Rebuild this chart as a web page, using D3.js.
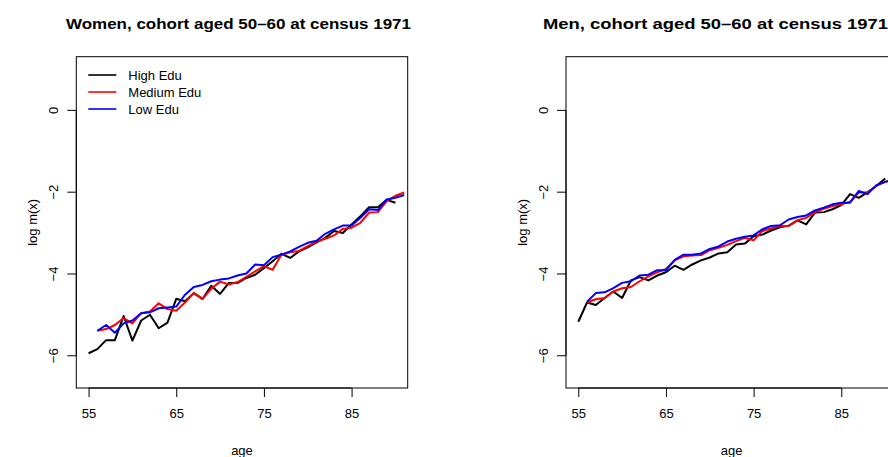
<!DOCTYPE html>
<html lang="en">
<head>
<meta charset="UTF-8">
<title>log m(x) by education</title>
<script src="https://cdnjs.cloudflare.com/ajax/libs/d3/7.8.5/d3.min.js"></script>
<style>
  body { margin: 0; background: #fff; }
  text { font-family: "Liberation Sans", Arial, Helvetica, sans-serif; fill: #000; }
</style>
</head>
<body>
<div id="chart"></div>
<script>
// ages: high edu series starts at 55, medium / low at 56
var agesHigh = d3.range(55, 91);
var agesMedLow = d3.range(56, 92);

var womenHigh = [-5.95, -5.85, -5.63, -5.63, -5.04, -5.64, -5.15, -5.01, -5.34, -5.20,
  -4.62, -4.68, -4.48, -4.62, -4.30, -4.50, -4.23, -4.23, -4.11, -4.03,
  -3.87, -3.70, -3.52, -3.62, -3.46, -3.36, -3.24, -3.13, -2.96, -3.01,
  -2.80, -2.60, -2.38, -2.38, -2.20, -2.27];
var womenMedium = [-5.40, -5.36, -5.26, -5.09, -5.22, -4.97, -4.93, -4.73, -4.87, -4.91,
  -4.71, -4.48, -4.62, -4.37, -4.20, -4.27, -4.21, -4.08, -3.95, -3.82,
  -3.91, -3.54, -3.48, -3.45, -3.33, -3.22, -3.15, -3.07, -2.91, -2.88,
  -2.76, -2.51, -2.50, -2.23, -2.10, -2.02];
var womenLow = [-5.40, -5.26, -5.45, -5.22, -5.15, -4.97, -4.95, -4.85, -4.83, -4.81,
  -4.52, -4.33, -4.28, -4.19, -4.15, -4.12, -4.05, -4.00, -3.78, -3.80,
  -3.60, -3.54, -3.46, -3.35, -3.25, -3.20, -3.03, -2.92, -2.83, -2.83,
  -2.64, -2.43, -2.45, -2.19, -2.15, -2.08];

var menHigh = [-5.18, -4.71, -4.77, -4.60, -4.44, -4.60, -4.17, -4.09, -4.17, -4.05,
  -3.97, -3.81, -3.91, -3.78, -3.68, -3.61, -3.51, -3.48, -3.29, -3.27,
  -3.09, -3.05, -2.95, -2.87, -2.83, -2.70, -2.80, -2.51, -2.50, -2.43,
  -2.33, -2.06, -2.15, -2.01, -1.86, -1.68];
var menMedium = [-4.71, -4.63, -4.60, -4.44, -4.36, -4.33, -4.19, -4.07, -3.97, -3.89,
  -3.68, -3.58, -3.56, -3.55, -3.43, -3.37, -3.30, -3.21, -3.13, -3.19,
  -2.96, -2.90, -2.84, -2.84, -2.70, -2.64, -2.50, -2.42, -2.35, -2.31,
  -2.25, -2.02, -2.02, -1.86, -1.76, -1.70];
var menLow = [-4.69, -4.48, -4.46, -4.36, -4.23, -4.19, -4.05, -4.03, -3.92, -3.92,
  -3.67, -3.54, -3.54, -3.51, -3.40, -3.34, -3.22, -3.15, -3.10, -3.07,
  -2.92, -2.84, -2.82, -2.68, -2.62, -2.58, -2.46, -2.39, -2.31, -2.27,
  -2.27, -1.98, -2.06, -1.84, -1.76, -1.72];

var legendLabels = ["High Edu", "Medium Edu", "Low Edu"];
var colors = ["#000000", "#ff0000", "#0000ff"];
var xTicks = [55, 65, 75, 85];
var yTicks = [-6, -4, -2, 0];
var ylim = [-6.5, 1];

var W = 888, H = 457;
var svg = d3.select("#chart").append("svg")
  .attr("width", W).attr("height", H)
  .style("display", "block");

// R style 4% padding of the axis range
function pad(lim) {
  var d = (lim[1] - lim[0]) * 0.04;
  return [lim[0] - d, lim[1] + d];
}

function drawPanel(left, title, titleX, series, showLegend) {
  var top = 56.7, bottom = 388, w = 331.4;
  var x = d3.scaleLinear().domain(pad(d3.extent(agesHigh))).range([left, left + w]);
  var y = d3.scaleLinear().domain(pad(ylim)).range([bottom, top]);

  var g = svg.append("g");
  var clipId = "clip" + Math.round(left);
  svg.append("clipPath").attr("id", clipId)
    .append("rect").attr("x", left).attr("y", top).attr("width", w).attr("height", bottom - top);

  var line = d3.line().x(function (d) { return x(d[0]); }).y(function (d) { return y(d[1]); });
  series.forEach(function (s, i) {
    g.append("path")
      .datum(d3.zip(s.ages, s.values))
      .attr("d", line)
      .attr("clip-path", "url(#" + clipId + ")")
      .attr("fill", "none")
      .attr("stroke", colors[i])
      .attr("stroke-width", 2)
      .attr("stroke-linejoin", "round");
  });

  // box
  g.append("rect").attr("x", left).attr("y", top).attr("width", w).attr("height", bottom - top)
    .attr("fill", "none").attr("stroke", "#000").attr("stroke-width", 1);

  var xa = g.append("g").attr("transform", "translate(0," + bottom + ")")
    .call(d3.axisBottom(x).tickValues(xTicks).tickSize(9).tickPadding(12).tickFormat(d3.format("d")));
  xa.select(".domain").attr("d", "M" + x(xTicks[0]) + ",0H" + x(xTicks[xTicks.length - 1]));
  xa.selectAll("text").attr("font-size", 13).attr("font-family", null);

  var ya = g.append("g").attr("transform", "translate(" + left + ",0)")
    .call(d3.axisLeft(y).tickValues(yTicks).tickSize(9).tickFormat(function (d) { return d < 0 ? "\u2212" + (-d) : d; }));
  ya.select(".domain").attr("d", "M0," + y(yTicks[0]) + "V" + y(yTicks[yTicks.length - 1]));
  ya.selectAll(".tick text")
    .attr("font-size", 13).attr("font-family", null)
    .attr("x", null).attr("dy", null)
    .attr("text-anchor", "middle")
    .attr("transform", "translate(-23,0) rotate(-90) translate(0,4.5)");

  g.append("text").attr("x", left + w / 2).attr("y", 455)
    .attr("text-anchor", "middle").attr("font-size", 13).text("age");
  g.append("text")
    .attr("transform", "translate(" + (left - 39) + "," + ((top + bottom) / 2) + ") rotate(-90)")
    .attr("text-anchor", "middle").attr("font-size", 13).text("log m(x)");

  g.append("text").attr("x", titleX).attr("y", 29)
    .attr("text-anchor", "middle").attr("font-size", 15.5).attr("font-weight", "bold")
    .attr("textLength", 345).attr("lengthAdjust", "spacingAndGlyphs").text(title);

  if (showLegend) {
    var lg = g.append("g");
    legendLabels.forEach(function (lab, i) {
      var ly = 75 + i * 17;
      lg.append("line").attr("x1", left + 12).attr("x2", left + 40).attr("y1", ly).attr("y2", ly)
        .attr("stroke", colors[i]).attr("stroke-width", 1.6);
      lg.append("text").attr("x", left + 52).attr("y", ly + 4.5).attr("font-size", 13).text(lab);
    });
  }
}

drawPanel(76.3, "Women, cohort aged 50\u201360 at census 1971", 238.5, [
  { ages: agesHigh, values: womenHigh },
  { ages: agesMedLow, values: womenMedium },
  { ages: agesMedLow, values: womenLow }
], true);

drawPanel(566, "Men, cohort aged 50\u201360 at census 1971", 715.5, [
  { ages: agesHigh, values: menHigh },
  { ages: agesMedLow, values: menMedium },
  { ages: agesMedLow, values: menLow }
], false);
</script>
</body>
</html>
